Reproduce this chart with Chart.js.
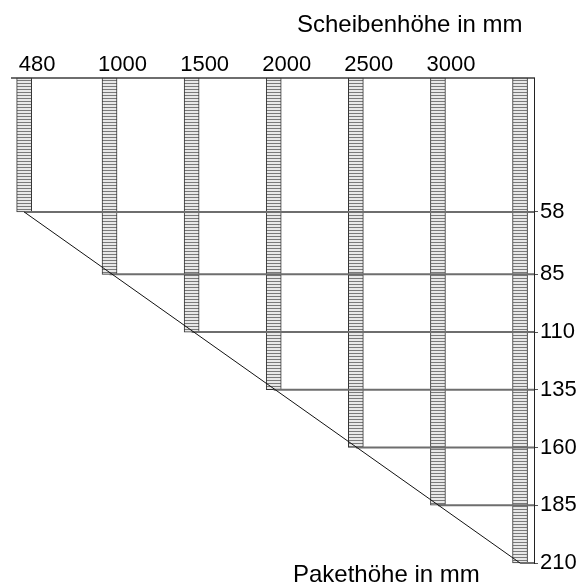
<!DOCTYPE html>
<html><head><meta charset="utf-8">
<script src="https://cdn.jsdelivr.net/npm/chart.js@4"></script>
<style>html,body{margin:0;padding:0;background:#fff}canvas{display:block}</style>
</head><body>
<canvas id="c" width="579" height="587"></canvas>
<script>
// ---- data ----
const scheibenhoehe = [480, 1000, 1500, 2000, 2500, 3000, 3500];
const pakethoehe    = [58, 85, 110, 135, 160, 185, 210];
const topTickLabels   = [480, 1000, 1500, 2000, 2500, 3000];
const rightTickLabels = [58, 85, 110, 135, 160, 185, 210];
const topTitle = 'Scheibenhöhe in mm';
const bottomTitle = 'Pakethöhe in mm';
const X_MIN = 406, X_MAX = 3585, Y_MIN = 0, Y_MAX = 210;

Chart.defaults.font.family = "'Liberation Sans', Arial, sans-serif";
Chart.defaults.color = '#000';

const ctx = document.getElementById('c').getContext('2d');

// striped fill for the panes
const pc = document.createElement('canvas'); pc.width = 4; pc.height = 3;
const g = pc.getContext('2d');
g.fillStyle = '#e8e8e8'; g.fillRect(0, 0, 4, 3);
g.fillStyle = '#7a7a7a'; g.fillRect(0, 2, 4, 1);
const stripes = ctx.createPattern(pc, 'repeat');

const datasets = [];
// horizontal lines from pane bottom to the right axis
scheibenhoehe.forEach((x, i) => {
  datasets.push({
    type: 'line', order: 1, clip: false,
    data: [{x: x, y: pakethoehe[i]}, {x: X_MAX, y: pakethoehe[i]}],
    borderColor: '#6e6e6e', borderWidth: 2, pointRadius: 0, tension: 0
  });
});
// diagonal
datasets.push({
  type: 'line', order: 0, clip: false,
  data: [{x: scheibenhoehe[0], y: pakethoehe[0]}, {x: scheibenhoehe[scheibenhoehe.length-1], y: pakethoehe[pakethoehe.length-1]}],
  borderColor: '#111', borderWidth: 1, pointRadius: 0, tension: 0
});
// panes (floating bars hanging from the top)
datasets.push({
  type: 'bar', order: 2, clip: false,
  data: scheibenhoehe.map((x, i) => ({x: x, y: [0, pakethoehe[i]]})),
  backgroundColor: stripes, borderColor: '#333', borderWidth: 1,
  borderSkipped: false, barThickness: 15
});

const titlePlugin = {
  id: 'titles',
  afterDraw(chart) {
    const c = chart.ctx;
    c.save();
    c.fillStyle = '#000';
    c.font = "24px 'Liberation Sans', Arial, sans-serif";
    c.textAlign = 'left'; c.textBaseline = 'alphabetic';
    c.fillText(topTitle, 297, 32);
    c.fillText(bottomTitle, 293, 582);
    c.restore();
  }
};

new Chart(ctx, {
  type: 'bar',
  data: { datasets },
  options: {
    responsive: false, animation: false,
    layout: { padding: { left: 12, right: 0, top: 0, bottom: 24 } },
    plugins: { legend: { display: false }, tooltip: { enabled: false }, title: { display: false } },
    scales: {
      x: {
        type: 'linear', position: 'top', min: X_MIN, max: X_MAX, offset: false,
        afterBuildTicks: s => { s.ticks = topTickLabels.map(v => ({value: v})); },
        afterFit: s => { s.height = 78; },
        grid: { display: false },
        border: { display: true, color: '#6e6e6e', width: 2 },
        ticks: { font: { size: 22 }, color: '#000', labelOffset: 13, padding: -8, maxRotation: 0, autoSkip: false,
                 callback: v => String(v) }
      },
      y: {
        type: 'linear', position: 'right', min: Y_MIN, max: Y_MAX, reverse: true,
        afterBuildTicks: s => { s.ticks = rightTickLabels.map(v => ({value: v})); },
        afterFit: s => { s.width = 45; },
        grid: { display: true, drawOnChartArea: false, drawTicks: true, tickLength: 4, color: '#555', lineWidth: 1 },
        border: { display: true, color: '#222', width: 1 },
        ticks: { font: { size: 22 }, color: '#000', padding: 2, autoSkip: false, callback: v => String(v) }
      }
    }
  },
  plugins: [titlePlugin]
});
</script>
</body></html>
